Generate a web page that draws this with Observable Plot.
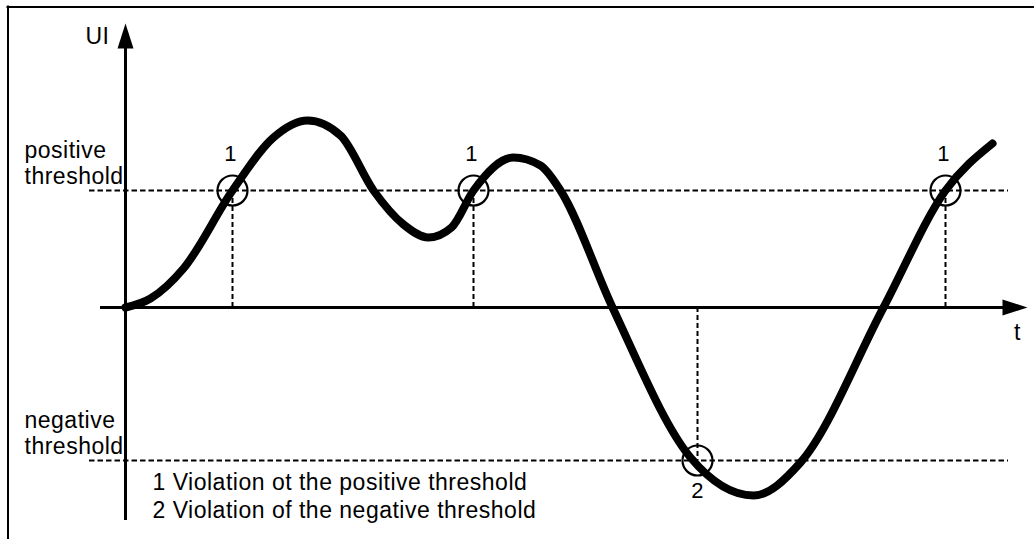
<!DOCTYPE html>
<html><head><meta charset="utf-8">
<script src="https://cdn.jsdelivr.net/npm/d3@7"></script>
<script src="https://cdn.jsdelivr.net/npm/@observablehq/plot@0.6"></script>
<style>body{margin:0;background:#fff} #chart svg{display:block}</style>
</head><body><div id="chart"></div>
<script>
// signal UI(t), diagram units
const curveT  = [0, 2.5, 5.8, 10.7, 14.8, 18.2, 21.5, 24.8, 27.8, 30.3, 32.6, 34.8, 38.8, 41.5, 43.5, 48.7, 56.5, 62.8, 67.5, 75.8, 82.0, 86.7];
const curveUI = [0, 0.9, 3.9, 11.7, 17.0, 18.7, 17.2, 11.7, 8.3, 7.0, 8.0, 11.7, 15.0, 14.2, 11.7, 0, -15.0, -18.8, -15.5, 0, 11.7, 16.4];

const positiveThreshold = 11.7;
const negativeThreshold = -15.3;
const positiveViolationsT = [10.7, 34.8, 82.0];
const negativeViolationsT = [57.2];

// axes extents (diagram units)
const tAxisRange = [-2.5, 90.2];
const uiAxisRange = [-21.3, 28.4];
const thresholdRange = [-3.6, 88.3];
const borderLeftT = -11.75;
const borderTopUI = 30.05;

// texts
const uiLabel = {t: -1.6, ui: 26.4, text: "UI"};
const tLabel = {t: 89.2, ui: -3.2, text: "t"};
const thresholdLabels = [{ui: 12.4, text: "positive\nthreshold"}, {ui: -14.6, text: "negative\nthreshold"}];
const thresholdLabelT = -10.1;
const legendLines = ["1 Violation ot the positive threshold", "2 Violation of the negative threshold"];
const legendPos = {t: 2.7, ui: -21.0};

const curve = curveT.map((t, i) => ({t, ui: curveUI[i]}));

const arrowHead = {
  draw(ctx) { ctx.moveTo(0, 0); ctx.lineTo(-8, 25); ctx.lineTo(8, 25); ctx.closePath(); }
};

const dash = "5.5,3";
const plot = Plot.plot({
  width: 1034, height: 539, margin: 0,
  x: {domain: [-12.5, 90.9], axis: null},
  y: {domain: [-23.2, 30.7], axis: null},
  style: {fontFamily: "'Liberation Sans', Arial, sans-serif", fontSize: "23px", background: "#fff", color: "#000", letterSpacing: "0.5px"},
  marks: [
    // border
    Plot.ruleY([borderTopUI], {x1: borderLeftT - 0.1, x2: 200, stroke: "#000", strokeWidth: 2}),
    Plot.ruleX([borderLeftT], {y1: borderTopUI + 0.1, y2: -100, stroke: "#000", strokeWidth: 2}),
    // thresholds
    Plot.ruleY([positiveThreshold, negativeThreshold], {x1: thresholdRange[0], x2: thresholdRange[1], stroke: "#000", strokeWidth: 2, strokeDasharray: dash}),
    Plot.ruleX(positiveViolationsT, {y1: 0, y2: positiveThreshold, stroke: "#000", strokeWidth: 2, strokeDasharray: "5,3"}),
    Plot.ruleX(negativeViolationsT, {y1: 0, y2: negativeThreshold, stroke: "#000", strokeWidth: 2, strokeDasharray: "5,3"}),
    // axes
    Plot.ruleY([0], {x1: tAxisRange[0], x2: tAxisRange[1] - 2, stroke: "#000", strokeWidth: 3}),
    Plot.ruleX([0], {y1: uiAxisRange[0], y2: uiAxisRange[1] - 2, stroke: "#000", strokeWidth: 3}),
    Plot.dot([{t: 0, ui: uiAxisRange[1]}], {x: "t", y: "ui", symbol: arrowHead, r: 5, fill: "#000", stroke: null}),
    Plot.dot([{t: tAxisRange[1], ui: 0}], {x: "t", y: "ui", symbol: arrowHead, r: 5, rotate: 90, fill: "#000", stroke: null}),
    // signal
    Plot.line(curve, {x: "t", y: "ui", curve: "monotone-x", stroke: "#000", strokeWidth: 8, strokeLinecap: "round", strokeLinejoin: "round"}),
    // violation circles
    Plot.dot(positiveViolationsT, {x: d => d, y: () => positiveThreshold, r: 15, stroke: "#000", strokeWidth: 2.2, fill: "none"}),
    Plot.dot(negativeViolationsT, {x: d => d, y: () => negativeThreshold, r: 15, stroke: "#000", strokeWidth: 2.2, fill: "none"}),
    Plot.text(positiveViolationsT, {x: d => d, y: () => positiveThreshold, text: () => "1", dy: -30, dx: -2, lineAnchor: "bottom", fontSize: 22}),
    Plot.text(negativeViolationsT, {x: d => d, y: () => negativeThreshold, text: () => "2", dy: 37, lineAnchor: "bottom", fontSize: 22}),
    // texts
    Plot.text([uiLabel], {x: "t", y: "ui", text: "text", textAnchor: "end", lineAnchor: "bottom"}),
    Plot.text([tLabel], {x: "t", y: "ui", text: "text", textAnchor: "middle", lineAnchor: "bottom"}),
    Plot.text(thresholdLabels, {x: () => thresholdLabelT, y: "ui", text: "text", textAnchor: "start", lineAnchor: "bottom", lineHeight: 1.1}),
    Plot.text([legendLines.join("\n")], {x: () => legendPos.t, y: () => legendPos.ui, text: d => d, textAnchor: "start", lineAnchor: "bottom", lineHeight: 1.18})
  ]
});
document.getElementById("chart").appendChild(plot);
</script>
</body></html>
